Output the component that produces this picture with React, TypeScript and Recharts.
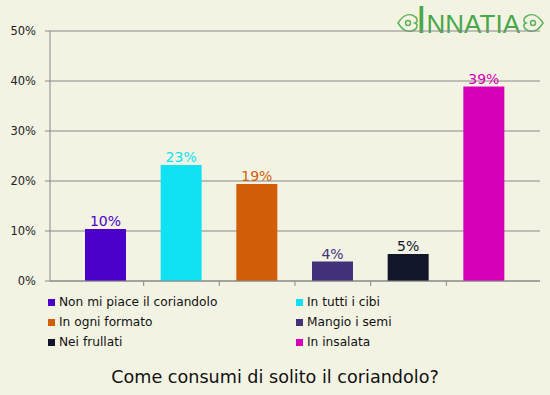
import React from 'react';
import { BarChart, Bar, XAxis, YAxis, CartesianGrid, Cell, LabelList } from 'recharts';

// categories, values (%) and colours
const categories = [
  'Non mi piace il coriandolo',
  'In tutti i cibi',
  'In ogni formato',
  'Mangio i semi',
  'Nei frullati',
  'In insalata',
];
const values = [10.4, 23.2, 19.4, 3.9, 5.4, 38.9];
const colors = ['#4a00c8', '#10e2f4', '#d25e0a', '#42307a', '#11162b', '#d600b8'];
const yTicks = [0, 10, 20, 30, 40, 50];
const title = 'Come consumi di solito il coriandolo?';

const data = categories.map((name, i) => ({ name, value: values[i] }));

const FONT = '"DejaVu Sans", Verdana, sans-serif';
const BAND = (540 - 50 - 36) / categories.length;

const BoundaryTick = (props: any) => {
  const { x, y, index } = props;
  if (index === 0) return <g />;
  const bx = x - BAND / 2;
  return <line x1={bx} x2={bx} y1={y} y2={y + 5} stroke="#888" strokeWidth={1} />;
};

const ValueLabel = (props: any) => {
  const { x, y, width, value, index } = props;
  return (
    <text
      x={x + width / 2}
      y={y - 3}
      textAnchor="middle"
      fontSize={14}
      fontFamily={FONT}
      fill={colors[index]}
    >
      {`${Math.round(value)}%`}
    </text>
  );
};

// heart-ish ornament pointing left, mirrored for the right side
const ornament = 'M1 10 C 6 2, 12 0, 17 3 C 21 5, 21 9, 18 10 C 21 11, 21 15, 17 17 C 12 20, 6 18, 1 10 Z';

const Logo = () => (
  <div style={{ position: 'absolute', left: 396, top: 12, width: 150, height: 24 }}>
    <svg width={150} height={24} style={{ overflow: 'visible' }}>
      <g fill="none" stroke="#5bb35b" strokeWidth={1.5}>
        <path d={ornament} transform="translate(1,1)" />
        <circle cx={12} cy={11} r={2.5} />
        <path d={ornament} transform="translate(148,1) scale(-1,1)" />
        <circle cx={137} cy={11} r={2.5} />
      </g>
      <text x={20} y={21} fill="#48a848" fontFamily='"Liberation Sans", sans-serif'>
        <tspan fontSize={38}>I</tspan>
        <tspan fontSize={26}>NNATIA</tspan>
      </text>
    </svg>
  </div>
);

export default function App() {
  return (
    <div
      style={{
        position: 'absolute',
        left: 0,
        top: 0,
        width: 550,
        height: 395,
        background: '#f3f3e3',
        fontFamily: FONT,
      }}
    >
      <Logo />
      <div style={{ position: 'relative', zIndex: 1 }}>
        <BarChart
          width={550}
          height={395}
          data={data}
          margin={{ top: 31, right: 10, left: 0, bottom: 108 }}
        >
          <CartesianGrid vertical={false} stroke="#888" strokeWidth={1} />
          <XAxis
            dataKey="name"
            height={6}
            padding={{ left: 18, right: 18 }}
            axisLine={{ stroke: '#888' }}
            tickLine={false}
            tickSize={0}
            tickMargin={0}
            interval={0}
            tick={(p: any) => <BoundaryTick {...p} />}
          />
          <YAxis
            width={50}
            domain={[0, 50]}
            ticks={yTicks}
            tickFormatter={(v: number) => `${v}%`}
            axisLine={{ stroke: '#888' }}
            tickLine={{ stroke: '#888' }}
            tickSize={5}
            tickMargin={9}
            tick={{ fontSize: 11.5, fill: '#222', fontFamily: FONT }}
          />
          <Bar dataKey="value" barSize={41} isAnimationActive={false}>
            {data.map((d, i) => (
              <Cell key={d.name} fill={colors[i]} />
            ))}
            <LabelList dataKey="value" content={<ValueLabel />} />
          </Bar>
        </BarChart>
      </div>
      <div style={{ position: 'absolute', left: 48, top: 293, width: 500, zIndex: 2 }}>
        {categories.map((c, i) => (
          <div
            key={c}
            style={{
              position: 'absolute',
              left: (i % 2) * 248,
              top: Math.floor(i / 2) * 20,
              height: 18,
              display: 'flex',
              alignItems: 'center',
              fontSize: 12.2,
              color: '#111',
              whiteSpace: 'nowrap',
            }}
          >
            <span
              style={{
                display: 'inline-block',
                width: 7,
                height: 7,
                background: colors[i],
                marginRight: 4,
              }}
            />
            {c}
          </div>
        ))}
      </div>
      <div
        style={{
          position: 'absolute',
          left: 0,
          top: 367,
          width: 550,
          textAlign: 'center',
          fontSize: 17.6,
          color: '#111',
          zIndex: 2,
        }}
      >
        {title}
      </div>
    </div>
  );
}
